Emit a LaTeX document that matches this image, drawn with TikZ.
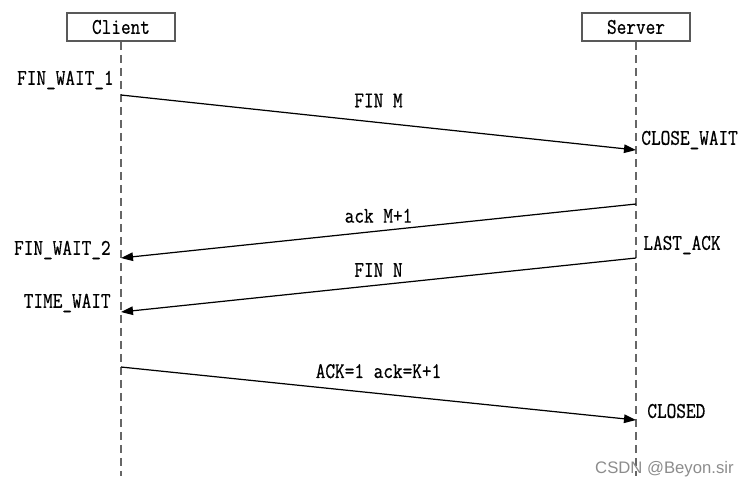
\documentclass[tikz,border=0pt]{standalone}
\usepackage{fontspec}
\newfontfamily\lblfont[FakeStretch=0.84,FakeBold=0.6]{Latin Modern Mono}
\newfontfamily\wmfont{Liberation Sans}
\usetikzlibrary{arrows.meta}

\tikzset{
  actor/.style={draw=black!65,line width=1.1pt,minimum width=2.16cm,minimum height=0.56cm,inner sep=0pt},
  life/.style={draw=black!60,line width=1pt,dash pattern=on 0.16cm off 0.1cm},
  msg/.style={-{Triangle[length=0.24cm,width=0.17cm]},line width=0.7pt},
  state/.style={inner sep=0pt}
}

\begin{document}
\begin{tikzpicture}[x=0.02cm,y=-0.02cm,font=\lblfont\fontsize{12.7}{14}\selectfont]
\useasboundingbox (0,0) rectangle (749,488);

% the two ends
\node[actor] (client) at (121,27) {Client};
\node[actor] (server) at (636,27) {Server};
\coordinate (cend) at (121,476);
\coordinate (send) at (636,476);
\draw[life] (client.south) -- (cend);
\draw[life] (server.south) -- (send);

% points on the lifelines
\coordinate (c1) at (121,95);  \coordinate (s1) at (636,150);
\coordinate (s2) at (636,204); \coordinate (c2) at (121,258);
\coordinate (s3) at (636,258); \coordinate (c3) at (121,312);
\coordinate (c4) at (121,367); \coordinate (s4) at (636,420);

% messages
\draw[msg] (c1) -- (s1) node[midway,above=5pt]{FIN M};
\draw[msg] (s2) -- (c2) node[midway,above=1pt]{ack M+1};
\draw[msg] (s3) -- (c3) node[midway,above=1pt]{FIN N};
\draw[msg] (c4) -- (s4) node[midway,above=5pt]{ACK=1 ack=K+1};

% states
\node[state,anchor=east] (fw1) at (114,80) {FIN\_WAIT\_1};
\node[state,anchor=west] (cw) at (641,140) {CLOSE\_WAIT};
\node[state,anchor=east] (fw2) at (111,250) {FIN\_WAIT\_2};
\node[state,anchor=west] (la) at (643,245) {LAST\_ACK};
\node[state,anchor=east] (tw) at (111,303) {TIME\_WAIT};
\node[state,anchor=west] (cl) at (647,411) {CLOSED};

\node[state,anchor=east,text=black!45,font=\wmfont\fontsize{9.5}{11}\selectfont] (wm) at (734,469) {CSDN @Beyon.sir};
\end{tikzpicture}
\end{document}
